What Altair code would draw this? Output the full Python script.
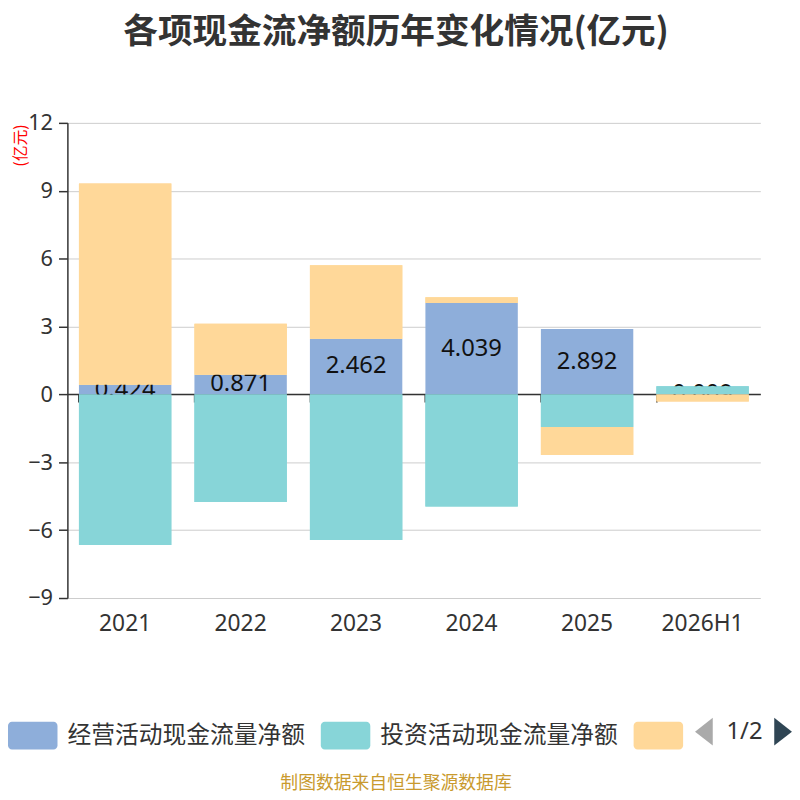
import altair as alt
import pandas as pd

years = ["2021", "2022", "2023", "2024", "2025", "2026H1"]
series = ["经营活动现金流量净额", "投资活动现金流量净额", "筹资活动现金流量净额"]
colors = ["#8EAEDA", "#87D5D8", "#FFD899"]
op = [0.424, 0.871, 2.462, 4.039, 2.892, 0.009]
inv = [-6.66, -4.76, -6.44, -4.95, -1.44, 0.35]
fin = [8.90, 2.25, 3.25, 0.25, -1.24, -0.32]
y_ticks = [-9, -6, -3, 0, 3, 6, 9, 12]
title_text = "各项现金流净额历年变化情况(亿元)"
unit_text = "(亿元)"
footer_text = "制图数据来自恒生聚源数据库"
page_text = "1/2"

rows = []
for k, vals in enumerate([op, inv, fin]):
    for yr, v in zip(years, vals):
        rows.append({"year": yr, "s": series[k], "k": k, "v": v})
df = pd.DataFrame(rows)

FONT = "Noto Sans CJK SC"
NUM = "Noto Sans"
W, H = 700, 480

x_scale = alt.Scale(domain=years, paddingInner=0.2, paddingOuter=0.1)
y_scale = alt.Scale(domain=[-9, 12], nice=False, zero=False)
color_scale = alt.Scale(domain=series, range=colors)

y_axis = alt.Axis(
    values=y_ticks, title=unit_text, titleColor="#ff0000", titleFontSize=16,
    titleFont=FONT, titleFontWeight="normal", titleAngle=-90, titleX=-39,
    titleY=1, titleAlign="right", titleBaseline="bottom",
    labelFontSize=22, labelColor="#333", labelFont=NUM, labelPadding=6,
    tickSize=9, tickColor="#333", tickWidth=1.5, domainColor="#333",
    domainWidth=1.5, grid=True, gridColor="#cccccc", gridWidth=1,
)
x_axis_labels = alt.Axis(
    orient="bottom", title=None, labelFontSize=23, labelColor="#333",
    labelFont=NUM, labelPadding=15, ticks=False, domain=False, grid=False,
    labelAngle=0,
)
x_axis_zero = alt.Axis(
    orient="bottom", offset=-206, title=None, labels=False, ticks=True,
    tickSize=8, tickColor="#333", tickWidth=1.5, bandPosition=0,
    domain=True, domainColor="#333", domainWidth=1.5, grid=False,
)

RECT = ("M-0.84,-0.56 H0.84 A0.16,0.16 0 0 1 1,-0.4 V0.4 A0.16,0.16 0 0 1 0.84,0.56 "
        "H-0.84 A0.16,0.16 0 0 1 -1,0.4 V-0.4 A0.16,0.16 0 0 1 -0.84,-0.56 Z")
legend = alt.Legend(
    orient="none", legendX=-60, legendY=594, direction="horizontal", title=None,
    symbolType=RECT, symbolSize=2500, symbolStrokeWidth=0, symbolOpacity=1,
    labelFontSize=24, labelFont=FONT, labelColor="#333", labelOffset=10,
    columnPadding=16, labelLimit=400,
    labelExpr="datum.value == '筹资活动现金流量净额' ? '' : datum.label",
)

base = alt.Chart(df)

bars = base.mark_bar().encode(
    x=alt.X("year:N", scale=x_scale, sort=years, axis=x_axis_labels),
    y=alt.Y("v:Q", scale=y_scale, axis=y_axis, stack="zero"),
    color=alt.Color("s:N", scale=color_scale, legend=legend),
    order=alt.Order("k:Q"),
)

labels = base.transform_filter("datum.k == 0").transform_calculate(
    mid="datum.v / 2"
).mark_text(font=NUM, fontSize=24, color="#111", baseline="middle").encode(
    x=alt.X("year:N", scale=x_scale, sort=years, axis=None),
    y=alt.Y("mid:Q", scale=y_scale, axis=y_axis),
    text=alt.Text("v:Q", format=".3f"),
)

cover = base.mark_bar().encode(
    x=alt.X("year:N", scale=x_scale, sort=years, axis=x_axis_zero),
    y=alt.Y("v:Q", scale=y_scale, axis=y_axis, stack="zero"),
    color=alt.Color("s:N", scale=color_scale, legend=legend),
    order=alt.Order("k:Q"),
    opacity=alt.condition("datum.k == 0", alt.value(0), alt.value(1)),
)

title_mark = alt.Chart(pd.DataFrame({"t": [title_text]})).mark_text(
    font=FONT, fontSize=35, fontWeight="bold", color="#333",
    baseline="middle", align="center"
).encode(x=alt.value(332), y=alt.value(-92), text="t:N")

footer = alt.Chart(pd.DataFrame({"t": [footer_text]})).mark_text(
    font=FONT, fontSize=18, color="#C99A2E", baseline="middle", align="center"
).encode(x=alt.value(332), y=alt.value(668), text="t:N")

TRI_L = "M0.64,-1 L-0.64,0 L0.64,1 Z"
TRI_R = "M-0.64,-1 L0.64,0 L-0.64,1 Z"
pager_df = pd.DataFrame({"t": [page_text]})
tri_l = alt.Chart(pager_df).mark_point(
    shape=TRI_L, filled=True, size=784, color="#aaaaaa", opacity=1, strokeWidth=0
).encode(x=alt.value(643), y=alt.value(615))
tri_r = alt.Chart(pager_df).mark_point(
    shape=TRI_R, filled=True, size=784, color="#2f4554", opacity=1, strokeWidth=0
).encode(x=alt.value(723), y=alt.value(615))
pager = alt.Chart(pager_df).mark_text(
    font=NUM, fontSize=24, color="#333", baseline="middle", align="center"
).encode(x=alt.value(684), y=alt.value(615), text="t:N")

chart = alt.layer(
    bars, labels, cover, title_mark, footer, tri_l, pager, tri_r
).resolve_axis(x="independent").properties(
    width=W, height=H,
    autosize=alt.AutoSizeParams(type="none"),
    padding={"left": 60, "top": 112, "right": 32, "bottom": 200},
).configure_view(stroke=None)

chart.save("out.html", embed_options={"renderer": "svg", "actions": False})
